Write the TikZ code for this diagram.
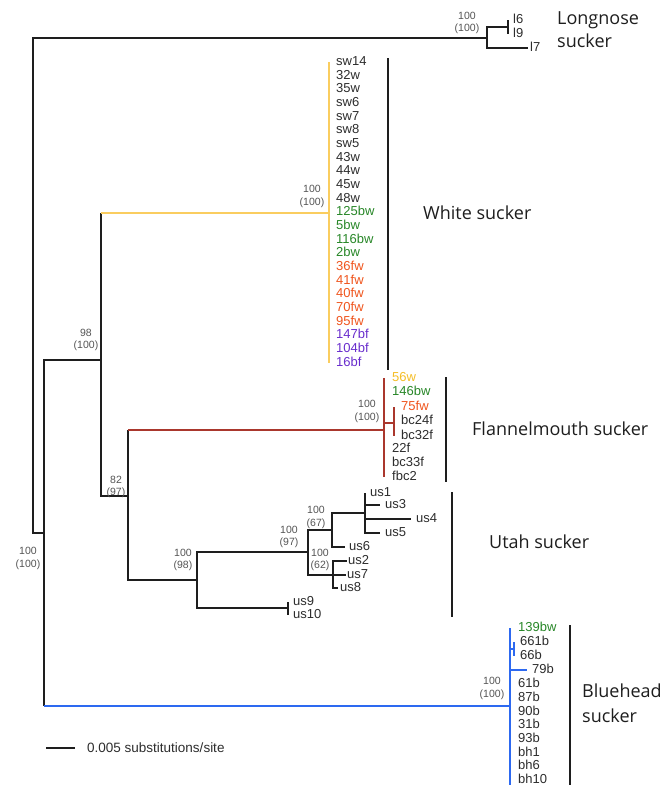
\documentclass[tikz,border=0pt]{standalone}
\usepackage{fontspec}
\setmainfont{Liberation Sans}
\newfontfamily\grpfont{Open Sans}
\definecolor{ylw}{RGB}{250,205,95}
\definecolor{redb}{RGB}{170,55,45}
\definecolor{blu}{RGB}{45,105,240}
\definecolor{grn}{RGB}{40,135,40}
\definecolor{org}{RGB}{240,85,30}
\definecolor{pur}{RGB}{105,45,205}
\definecolor{yfs}{RGB}{245,190,40}
\definecolor{leafc}{RGB}{45,45,45}
\definecolor{supc}{RGB}{85,85,85}
\definecolor{linec}{RGB}{30,30,30}
\tikzset{
  br/.style={line width=1.8pt, draw=linec},
  grpbar/.style={line width=2.2pt, draw=linec},
  leaf/.style={anchor=west, inner xsep=#1, inner ysep=0pt, font=\fontsize{13}{13}\selectfont, text=leafc, text height=0.72em, text depth=0pt},
  leaf/.default=6pt,
  sup/.style={align=center, font=\fontsize{10.5}{12.5}\selectfont, text=supc, inner sep=0pt},
  grp/.style={anchor=base west, font=\grpfont\fontsize{18}{24}\selectfont, text=linec, inner sep=0pt, align=left},
}
\begin{document}
\begin{tikzpicture}[x=1pt,y=-1pt]
\useasboundingbox[fill=white] (0,0) rectangle (662,785);

% ---- internal nodes
\coordinate (R) at (33,300);
\coordinate (L) at (487,38);
\coordinate (L2) at (508,27);
\coordinate (A) at (44,533);
\coordinate (B) at (101,360);
\coordinate (Wn) at (329,213);
\coordinate (C) at (128,496);
\coordinate (Fn) at (384,430);
\coordinate (F2) at (394,423);
\coordinate (U) at (197,580);
\coordinate (U1) at (308,552);
\coordinate (U2) at (332,530);
\coordinate (U3) at (365,513);
\coordinate (U7) at (333,575);
\coordinate (U9) at (288,608);
\coordinate (Bl) at (510,706);
\coordinate (B2) at (514,649);
\coordinate (Bend) at (510,785);

% ---- backbone
\draw[br] (R) |- (L);
\draw[br] (R) |- (A);
\draw[br] (A) |- (B);
\draw[br] (A) -- (A |- Bl);
\draw[br, draw=blu] (A |- Bl) -- (Bl);
\draw[br] (B) -- (B |- Wn);
\draw[br, draw=ylw] (B |- Wn) -- (Wn);
\draw[br] (B) |- (C);
\draw[br] (C) -- (C |- Fn);
\draw[br, draw=redb] (C |- Fn) -- (Fn);
\draw[br] (C) |- (U);
\draw[br] (U) |- (U1);
\draw[br] (U) |- (U9);
\draw[br] (U1) |- (U2);
\draw[br] (U1) |- (U7);
\draw[br] (U2) |- (U3);

% ---- Longnose
\draw[br] (L) |- (L2);
\node[leaf=5pt] (l6) at (508,20) {l6};
\node[leaf=5pt] (l9) at (508,34) {l9};
\node[leaf=2pt] (l7) at (528,48) {l7};
\draw[br] (L2) |- (l6.west);
\draw[br] (L2) |- (l9.west);
\draw[br] (L) |- (l7.west);

% ---- White sucker
\foreach \t/\c [count=\i from 0] in {sw14/leafc,32w/leafc,35w/leafc,sw6/leafc,sw7/leafc,sw8/leafc,sw5/leafc,43w/leafc,44w/leafc,45w/leafc,48w/leafc,125bw/grn,5bw/grn,116bw/grn,2bw/grn,36fw/org,41fw/org,40fw/org,70fw/org,95fw/org,147bf/pur,104bf/pur,16bf/pur}{
  \node[leaf=7pt, text=\c] (w\i) at (329,{62+13.66*\i}) {\t};
  \draw[br, draw=ylw] (Wn) |- (w\i.west);
}

% ---- Flannelmouth
\node[leaf=8pt, text=yfs] (f56w) at (384,378) {56w};
\node[leaf=8pt, text=grn] (f146bw) at (384,392) {146bw};
\node[leaf=7pt, text=org] (f75fw) at (394,407) {75fw};
\node[leaf=7pt] (fbc24f) at (394,421) {bc24f};
\node[leaf=7pt] (fbc32f) at (394,436) {bc32f};
\node[leaf=8pt] (f22f) at (384,449) {22f};
\node[leaf=8pt] (fbc33f) at (384,463) {bc33f};
\node[leaf=8pt] (ffbc2) at (384,477) {fbc2};
\foreach \n in {f56w,f146bw,f22f,fbc33f,ffbc2}{\draw[br, draw=redb] (Fn) |- (\n.west);}
\draw[br, draw=redb] (Fn) |- (F2);
\foreach \n in {f75fw,fbc24f,fbc32f}{\draw[br, draw=redb] (F2) |- (\n.west);}

% ---- Utah
\node[leaf=5pt] (us1) at (365,493) {us1};
\node[leaf=5pt] (us3) at (380,505) {us3};
\node[leaf=5pt] (us4) at (411,519) {us4};
\node[leaf=5pt] (us5) at (380,533) {us5};
\node[leaf=4pt] (us6) at (345,547) {us6};
\node[leaf=1pt] (us2) at (347,561) {us2};
\node[leaf=1pt] (us7) at (346,575) {us7};
\node[leaf=2pt] (us8) at (338,588) {us8};
\node[leaf=5pt] (us9) at (288,602) {us9};
\node[leaf=5pt] (us10) at (288,615) {us10};
\foreach \n in {us1,us3,us4,us5}{\draw[br] (U3) |- (\n.west);}
\draw[br] (U2) |- (us6.west);
\foreach \n in {us2,us7,us8}{\draw[br] (U7) |- (\n.west);}
\foreach \n in {us9,us10}{\draw[br] (U9) |- (\n.west);}

% ---- Bluehead
\node[leaf=8pt, text=grn] (b139bw) at (510,628) {139bw};
\node[leaf=6pt] (b661b) at (514,642) {661b};
\node[leaf=6pt] (b66b) at (514,656) {66b};
\node[leaf=5pt] (b79b) at (527,670) {79b};
\draw[br, draw=blu] (Bl) |- (b139bw.west);
\draw[br, draw=blu] (Bl) |- (B2);
\draw[br, draw=blu] (B2) |- (b661b.west);
\draw[br, draw=blu] (B2) |- (b66b.west);
\draw[br, draw=blu] (Bl) |- (b79b.west);
\foreach \t [count=\i from 0] in {61b,87b,90b,31b,93b,bh1,bh6,bh10}{
  \node[leaf=8pt] (bb\i) at (510,{684+13.7*\i}) {\t};
}
\draw[br, draw=blu] (Bl) -- (Bend);

% ---- support values
\node[sup] (s1) at (467,23) {100\\(100)};
\node[sup] (s2) at (312,196.5) {100\\(100)};
\node[sup] (s3) at (86,340) {98\\(100)};
\node[sup] (s4) at (116,487) {82\\(97)};
\node[sup] (s5) at (367,411.5) {100\\(100)};
\node[sup] (s6) at (28,558.5) {100\\(100)};
\node[sup] (s7) at (183,560) {100\\(98)};
\node[sup] (s8) at (289,537) {100\\(97)};
\node[sup] (s9) at (316,517.5) {100\\(67)};
\node[sup] (s10) at (320,560) {100\\(62)};
\node[sup] (s11) at (492,688.5) {100\\(100)};

% ---- group bars and names
\draw[grpbar] (388,58) -- (388,370);
\draw[grpbar] (446,377) -- (446,482);
\draw[grpbar] (452,492) -- (452,617);
\draw[grpbar] (570,625) -- (570,785);
\node[grp] (gL1) at (557,24) {Longnose};
\node[grp] (gL2) at (557,47) {sucker};
\node[grp] (gW) at (423,219) {White sucker};
\node[grp] (gF) at (472,435) {Flannelmouth sucker};
\node[grp] (gU) at (489,548) {Utah sucker};
\node[grp] (gB1) at (582,697) {Bluehead};
\node[grp] (gB2) at (582,722) {sucker};

% ---- scale bar
\coordinate (sb1) at (46,748);
\coordinate (sb2) at (75,748);
\draw[line width=1.8pt, draw=linec] (sb1) -- (sb2);
\node[anchor=west, inner sep=0pt, font=\fontsize{13.5}{13.5}\selectfont, text=leafc] (sbt) at (87,748) {0.005 substitutions/site};
\end{tikzpicture}
\end{document}
